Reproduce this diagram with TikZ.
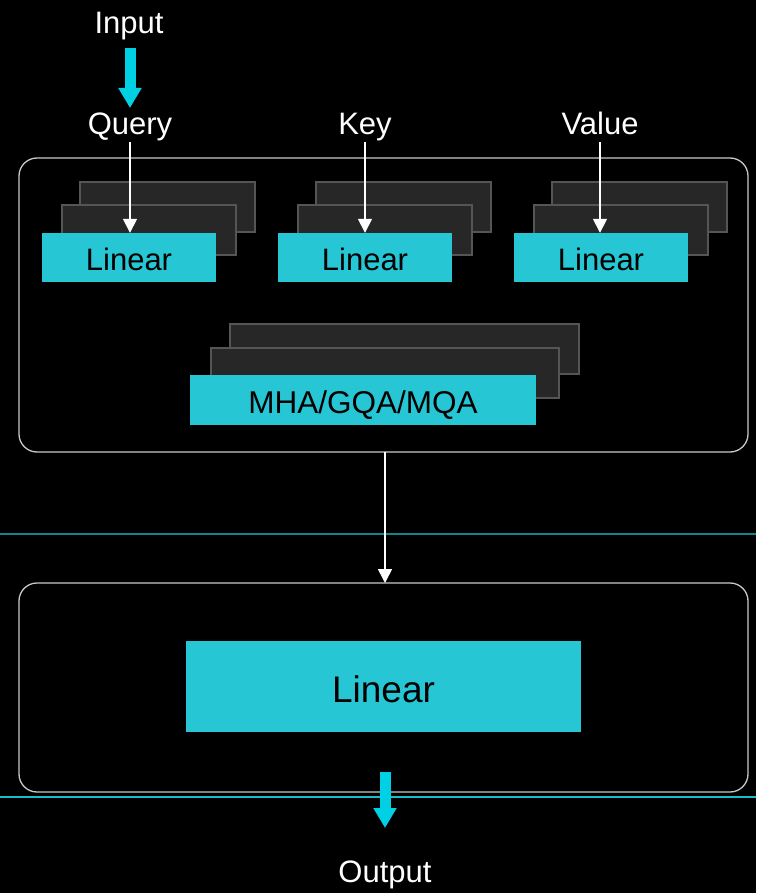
\documentclass[tikz,border=0pt]{standalone}
\usepackage{fontspec}
\setmainfont{Liberation Sans}
\usetikzlibrary{arrows.meta}
\definecolor{cyanfill}{HTML}{26C6D4}
\definecolor{cyanarrow}{HTML}{00D0E4}
\definecolor{backfill}{HTML}{272727}
\definecolor{backline}{HTML}{555555}
\definecolor{frameline}{HTML}{C8C8C8}
\definecolor{sepdark}{HTML}{15838F}
\definecolor{seplight}{HTML}{1CBCCC}
\tikzset{
  x=1pt, y=-1pt,
  label/.style={text=white, font=\fontsize{31}{34}\selectfont, inner sep=0pt, anchor=base},
  cyanbox/.style={fill=cyanfill, draw=none, text=black, inner sep=0pt, text depth=0pt},
  smallbox/.style={cyanbox, minimum width=174pt, minimum height=49pt, text height=25pt,
    font=\fontsize{31}{34}\selectfont},
  backbox/.style={fill=backfill, draw=backline, line width=1.2pt},
  frame/.style={draw=frameline, line width=1.3pt, rounded corners=18pt},
  thinarrow/.style={draw=white, line width=1.6pt, -{Triangle[width=14pt,length=14pt]}},
  fatarrow/.style={draw=cyanarrow, line width=11pt, -{Triangle[width=22pt,length=20pt]}},
}
\begin{document}
\begin{tikzpicture}
\fill[black] (0,0) rectangle (756,893);
\useasboundingbox (0,0) rectangle (756,893);

% separators
\draw[sepdark, line width=1.5pt] (0,534) -- (756,534);

% upper frame
\draw[frame] (19,158) rectangle (748,452);
\coordinate (f1b) at (385,452);

% stacked projection boxes for Query / Key / Value
\foreach \dx in {0, 236, 472} {
  \draw[backbox] (80+\dx,182) rectangle (255+\dx,232);
  \draw[backbox] (62+\dx,205) rectangle (236+\dx,255);
}
\node[smallbox] (lq) at (129,257.5) {Linear};
\node[smallbox] (lk) at (365,257.5) {Linear};
\node[smallbox] (lv) at (601,257.5) {Linear};

% attention stack
\draw[backbox] (230,324) rectangle (579,374);
\draw[backbox] (211,348) rectangle (559,398);
\node[cyanbox, minimum width=346pt, minimum height=50pt, text height=26pt,
  font=\fontsize{31.5}{34}\selectfont] (att) at (363,400) {MHA/GQA/MQA};

% input labels
\node[label] (inp) at (129,34) {Input};
\node[label] (qry) at (130,135) {Query};
\node[label] (key) at (365,135) {Key};
\node[label] (val) at (600,135) {Value};

\draw[fatarrow] (130,48) -- (130,108);
\draw[thinarrow] (130,142) -- (lq.north -| 130,0);
\draw[thinarrow] (365,142) -- (lk.north);
\draw[thinarrow] (600,142) -- (lv.north -| 600,0);

% lower frame
\draw[frame] (19,583) rectangle (748,792);
\coordinate (f2t) at (385,583);
\draw[thinarrow] (f1b) -- (f2t);
\node[cyanbox, minimum width=395pt, minimum height=91pt, text height=31pt,
  font=\fontsize{37}{40}\selectfont] (lout) at (383.5,686.5) {Linear};

\draw[seplight, line width=1.5pt] (0,797) -- (756,797);
\draw[fatarrow] (385,772) -- (385,828);
\node[label] (out) at (385,882) {Output};
\end{tikzpicture}
\end{document}
